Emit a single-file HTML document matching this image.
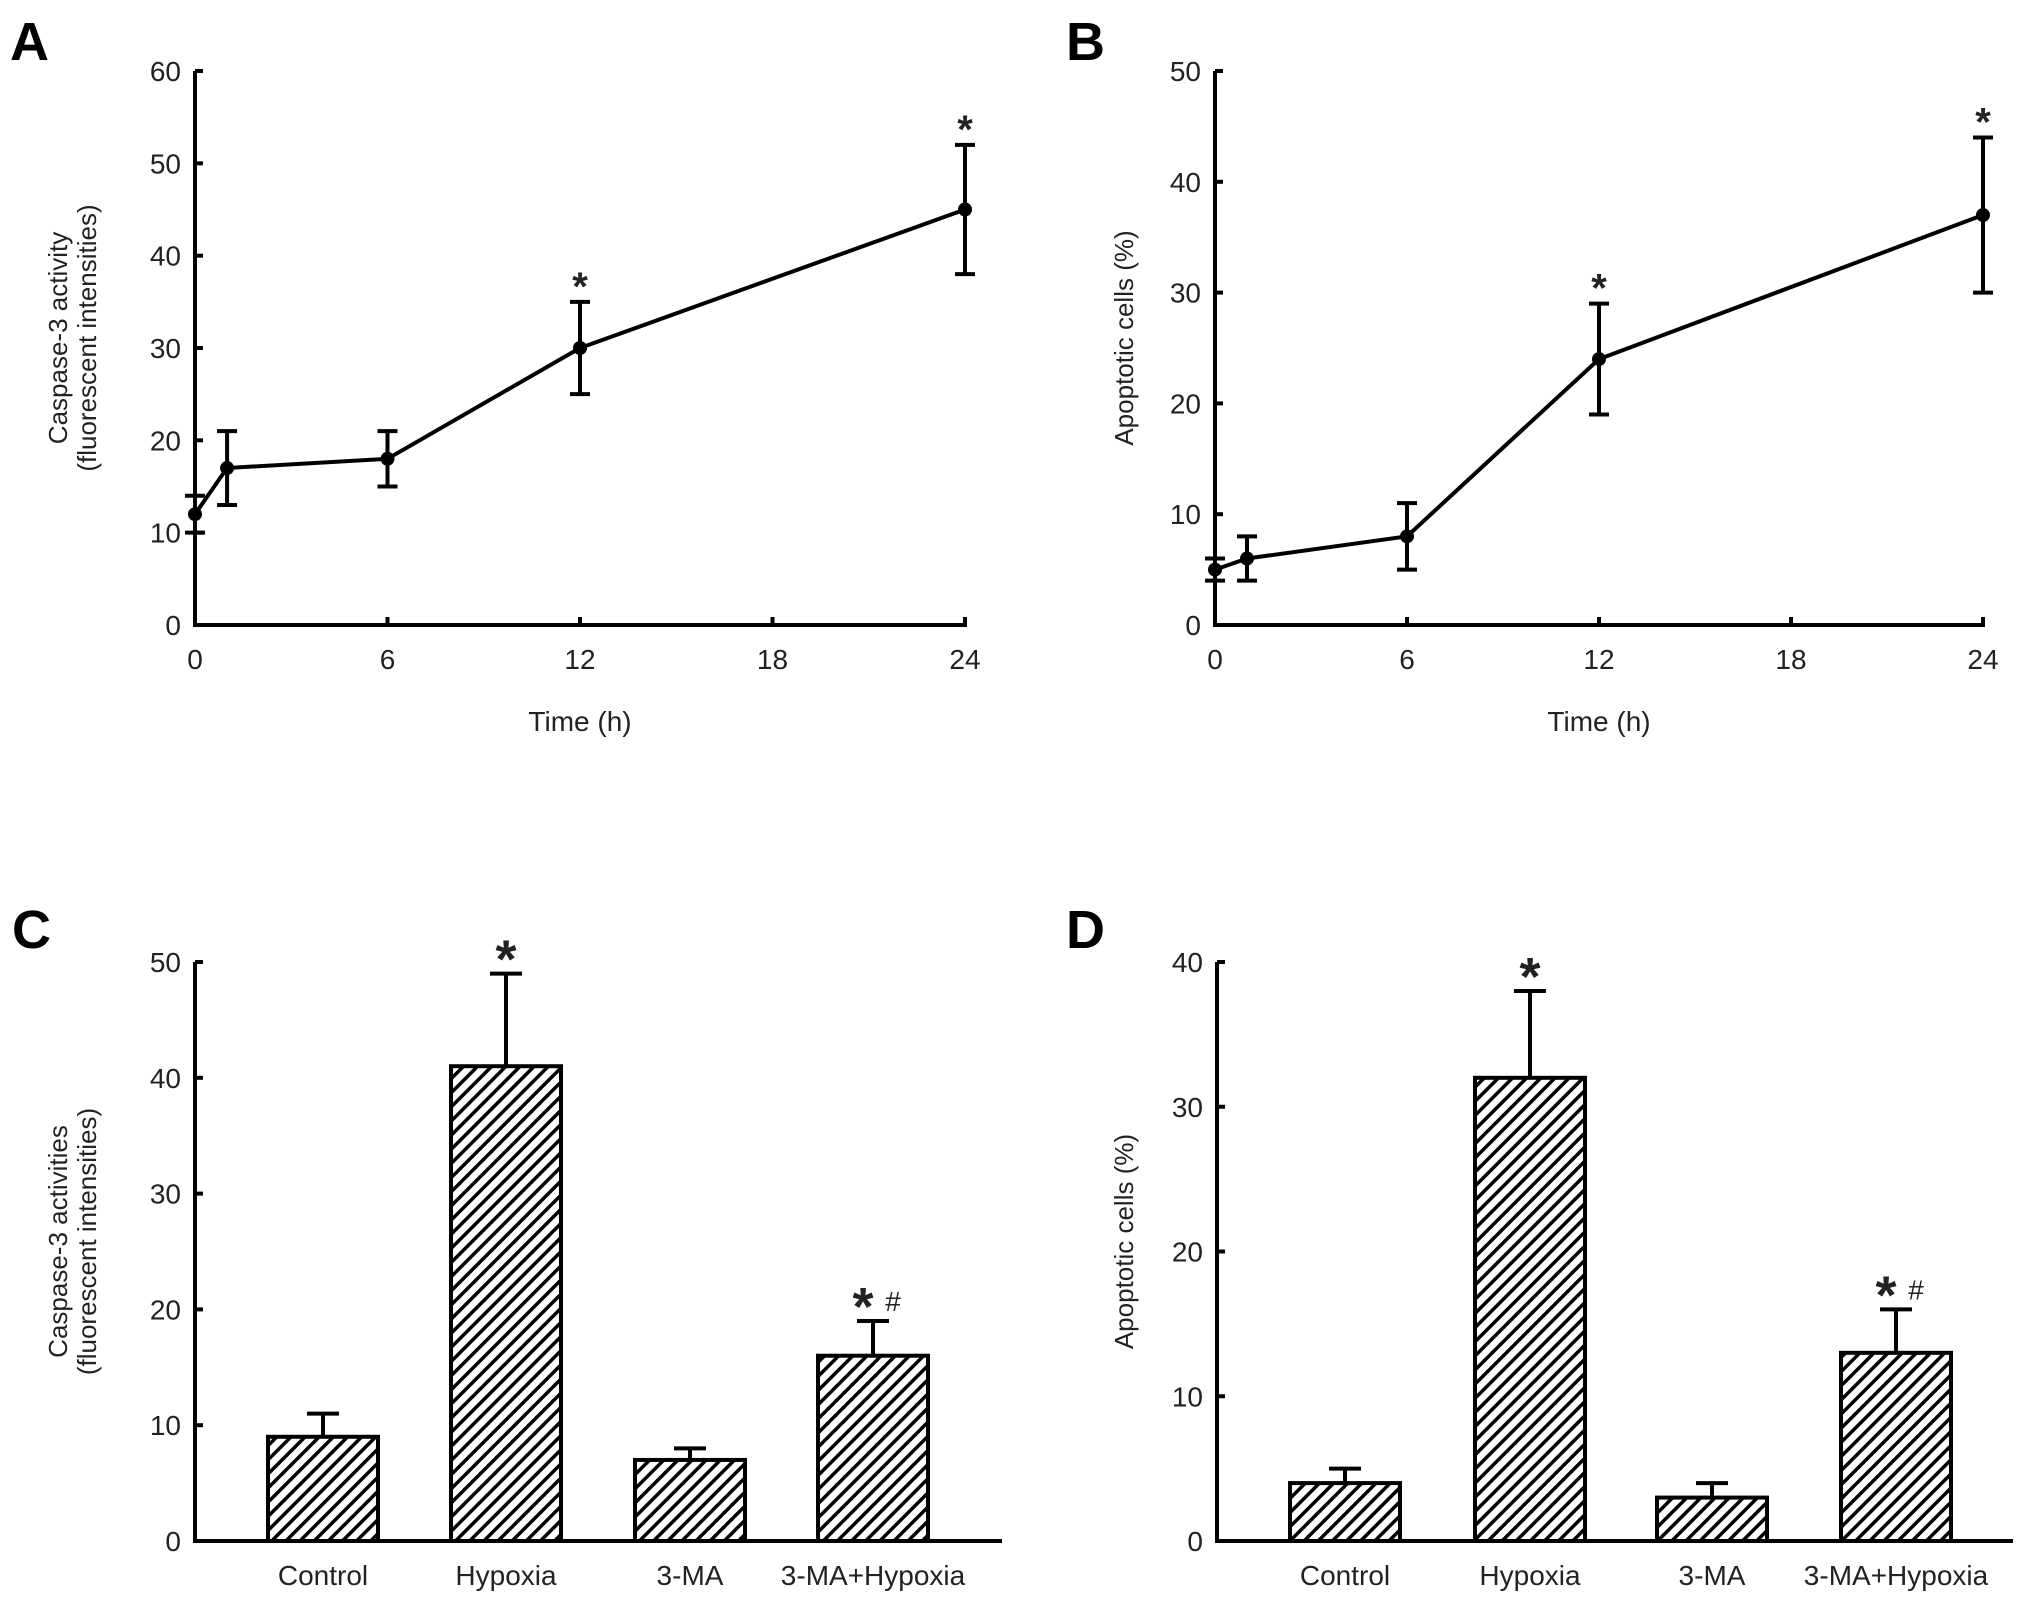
<!DOCTYPE html>
<html><head><meta charset="utf-8"><style>
html,body{margin:0;padding:0;background:#fff;}
svg{display:block;font-family:"Liberation Sans",sans-serif;}
</style></head><body>
<svg id="fig" width="2031" height="1600" viewBox="0 0 2031 1600">
<defs>
<pattern id="hatch" patternUnits="userSpaceOnUse" width="10" height="10" patternTransform="rotate(45)">
<rect width="10" height="10" fill="#fff"/>
<line x1="0" y1="0" x2="0" y2="10" stroke="#000" stroke-width="7"/>
</pattern>
</defs>
</svg>
<script>
// Panel A data
const timeA = [0, 1, 6, 12, 24];
const valA = [12, 17, 18, 30, 45];
const errA = [2, 4, 3, 5, 7];
const starA = [false, false, false, true, true];
// Panel B data
const valB = [5, 6, 8, 24, 37];
const errB = [1, 2, 3, 5, 7];
const starB = [false, false, false, true, true];
const xTicks = [0, 6, 12, 18, 24];
const yTicksA = [0, 10, 20, 30, 40, 50, 60];
const yTicksB = [0, 10, 20, 30, 40, 50];
// Panel C/D data
const groups = ["Control", "Hypoxia", "3-MA", "3-MA+Hypoxia"];
const valC = [9, 41, 7, 16];
const errC = [2, 8, 1, 3];
const markC = ["", "*", "", "*#"];
const valD = [4, 32, 3, 13];
const errD = [1, 6, 1, 3];
const markD = ["", "*", "", "*#"];
const yTicksC = [0, 10, 20, 30, 40, 50];
const yTicksD = [0, 10, 20, 30, 40];

const svg = document.getElementById('fig');
const NS = 'http://www.w3.org/2000/svg';
function mk(tag, attrs, parent) {
  const e = document.createElementNS(NS, tag);
  for (const k in attrs) e.setAttribute(k, attrs[k]);
  (parent || svg).appendChild(e);
  return e;
}
function txt(s, x, y, size, anchor, parent, weight) {
  const t = mk('text', {x: x, y: y, 'font-size': size, 'text-anchor': anchor || 'middle', fill: '#222', 'font-weight': weight || 'normal'}, parent);
  t.textContent = s;
  return t;
}

function yAxis(g, x0, yTop, yBot, ticks, ymax, xRight) {
  const ys = v => yBot - (v / ymax) * (yBot - yTop);
  const ax = mk('line', {x1: x0, y1: yTop, x2: x0, y2: yBot + 2, stroke: '#000', 'stroke-width': 4}, g);
  
  
  const xa = mk('line', {x1: x0 - 2, y1: yBot, x2: xRight, y2: yBot, stroke: '#000', 'stroke-width': 4}, g);
  
  
  ticks.forEach(v => {
    const tk = mk('line', {x1: x0, y1: ys(v), x2: x0 + 8, y2: ys(v), stroke: '#000', 'stroke-width': 4}, g);
    
    
    const t = txt(String(v), x0 - 14, ys(v) + 10, 28, 'end', g);
    
    
  });
  return ys;
}

function ytitle(g, lines, cx, cy) {
  lines.forEach((l, i) => {
    const x = cx + i * 29;
    const t = txt(l, x, cy, 26, 'middle', g);
    t.setAttribute('transform', `rotate(-90 ${x} ${cy})`);
    
    
  });
}

function panelLabel(s, x, y) {
  const t = txt(s, x, y, 54, 'start', svg, 'bold');
  t.setAttribute('fill', '#000');
  
  
}

function lineChart(name, x0, x24, yTop, yBot, ymax, yticks, vals, errs, stars, titleLines, titleX) {
  const g = mk('g', {});
  
  
  const xs = t => x0 + (t / 24) * (x24 - x0);
  const ys = yAxis(g, x0, yTop, yBot, yticks, ymax, x24 + 2);
  xTicks.forEach(v => {
    const tk = mk('line', {x1: xs(v), y1: yBot, x2: xs(v), y2: yBot - 8, stroke: '#000', 'stroke-width': 4}, g);
    
    
    const t = txt(String(v), xs(v), yBot + 44, 28, 'middle', g);
    
    
  });
  const pts = timeA.map((t, i) => xs(t) + ',' + ys(vals[i])).join(' ');
  const pl = mk('polyline', {points: pts, fill: 'none', stroke: '#000', 'stroke-width': 4, 'stroke-linejoin': 'round'}, g);
  
  
  timeA.forEach((t, i) => {
    const x = xs(t), hi = ys(vals[i] + errs[i]), lo = ys(vals[i] - errs[i]);
    const eb = mk('path', {d: `M${x},${hi}V${lo}M${x - 10},${hi}H${x + 10}M${x - 10},${lo}H${x + 10}`, stroke: '#000', 'stroke-width': 4, fill: 'none'}, g);
    
    
    const c = mk('circle', {cx: x, cy: ys(vals[i]), r: 7, fill: '#000'}, g);
    
    
    if (stars[i]) {
      const s = txt('*', x, hi - 2, 40, 'middle', g, 'bold');
      
      
    }
  });
  ytitle(g, titleLines, titleX, (yTop + yBot) / 2 - 10);
  const xt = txt('Time (h)', (x0 + x24) / 2, yBot + 106, 28, 'middle', g);
  
  
}

function barChart(name, x0, xRight, yTop, yBot, ymax, yticks, centers, vals, errs, marks, titleLines, titleX) {
  const g = mk('g', {});
  
  
  const ys = yAxis(g, x0, yTop, yBot, yticks, ymax, xRight);
  const bw = 110;
  groups.forEach((gname, i) => {
    const cx = centers[i];
    const hi = ys(vals[i] + errs[i]);
    const eb = mk('path', {d: `M${cx},${ys(vals[i])}V${hi}M${cx - 16},${hi}H${cx + 16}`, stroke: '#000', 'stroke-width': 4, fill: 'none'}, g);
    
    
    const r = mk('rect', {x: cx - bw / 2, y: ys(vals[i]), width: bw, height: yBot - ys(vals[i]), fill: 'url(#hatch)', stroke: '#000', 'stroke-width': 4}, g);
    
    
    const t = txt(gname, cx, yBot + 44, 28, 'middle', g);
    
    
    if (marks[i].indexOf('*') >= 0) {
      const off = marks[i].indexOf('#') >= 0 ? -10 : 0;
      const s = txt('*', cx + off, hi + 4, 54, 'middle', g, 'bold');
      
      
    }
    if (marks[i].indexOf('#') >= 0) {
      const h = txt('#', cx + 20, hi - 10, 28, 'middle', g);
      
      
    }
  });
  ytitle(g, titleLines, titleX, (yTop + yBot) / 2 - 10);
}

panelLabel('A', 10, 60);
panelLabel('B', 1066, 60);
panelLabel('C', 12, 948);
panelLabel('D', 1066, 948);

lineChart('chart-a', 195, 965, 71, 625, 60, yTicksA, valA, errA, starA, ['Caspase-3 activity', '(fluorescent intensities)'], 67);
lineChart('chart-b', 1215, 1983, 71, 625, 50, yTicksB, valB, errB, starB, ['Apoptotic cells (%)'], 1133);
barChart('chart-c', 195, 1002, 962, 1541, 50, yTicksC, [323, 506, 690, 873], valC, errC, markC, ['Caspase-3 activities', '(fluorescent intensities)'], 67);
barChart('chart-d', 1217, 2013, 962, 1541, 40, yTicksD, [1345, 1530, 1712, 1896], valD, errD, markD, ['Apoptotic cells (%)'], 1133);
</script>
</body></html>
